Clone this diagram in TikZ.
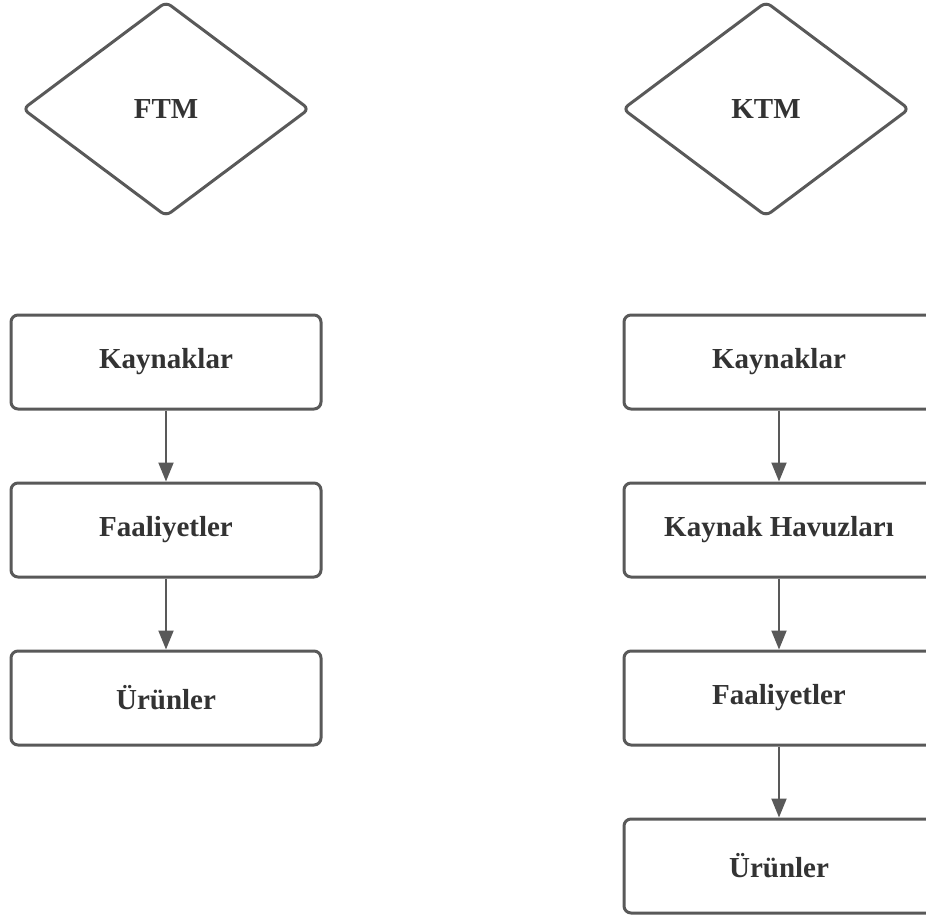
\documentclass[tikz,border=0pt]{standalone}
\usepackage{fontspec}
\setmainfont{Liberation Serif}
\usetikzlibrary{shapes.geometric,arrows.meta}
\definecolor{edge}{HTML}{595959}
\definecolor{ink}{HTML}{333333}
\tikzset{
  x=1pt, y=-1pt,
  label font/.style={font=\bfseries\fontsize{29}{32}\selectfont, text=ink},
  stepbox/.style={draw=edge, line width=3pt, rounded corners=7pt, fill=white,
    minimum width=310pt, minimum height=94pt, inner sep=0pt, label font},
  choice/.style={draw=edge, line width=3pt, rounded corners=6pt, shape=diamond,
    minimum width=287pt, minimum height=215pt, inner sep=0pt, label font},
  flow/.style={draw=edge, line width=2pt, -{Triangle[length=19pt,width=15pt]}},
}
\begin{document}
\begin{tikzpicture}
\useasboundingbox (0,0) rectangle (926,919);

% left column
\node[choice] (ftm) at (166,109) {FTM};
\node[stepbox] (lk) at (166,362) {Kaynaklar};
\node[stepbox] (lf) at (166,530) {Faaliyetler};
\node[stepbox] (lu) at (166,698) {Ürünler};
\draw[flow] (lk) -- (lf);
\draw[flow] (lf) -- (lu);

% right column
\node[choice] (ktm) at (766,109) {KTM};
\node[stepbox] (rk) at (779,362) {Kaynaklar};
\node[stepbox] (rh) at (779,530) {Kaynak Havuzları};
\node[stepbox] (rf) at (779,698) {Faaliyetler};
\node[stepbox] (ru) at (779,866) {Ürünler};
\draw[flow] (rk) -- (rh);
\draw[flow] (rh) -- (rf);
\draw[flow] (rf) -- (ru);
\end{tikzpicture}
\end{document}
